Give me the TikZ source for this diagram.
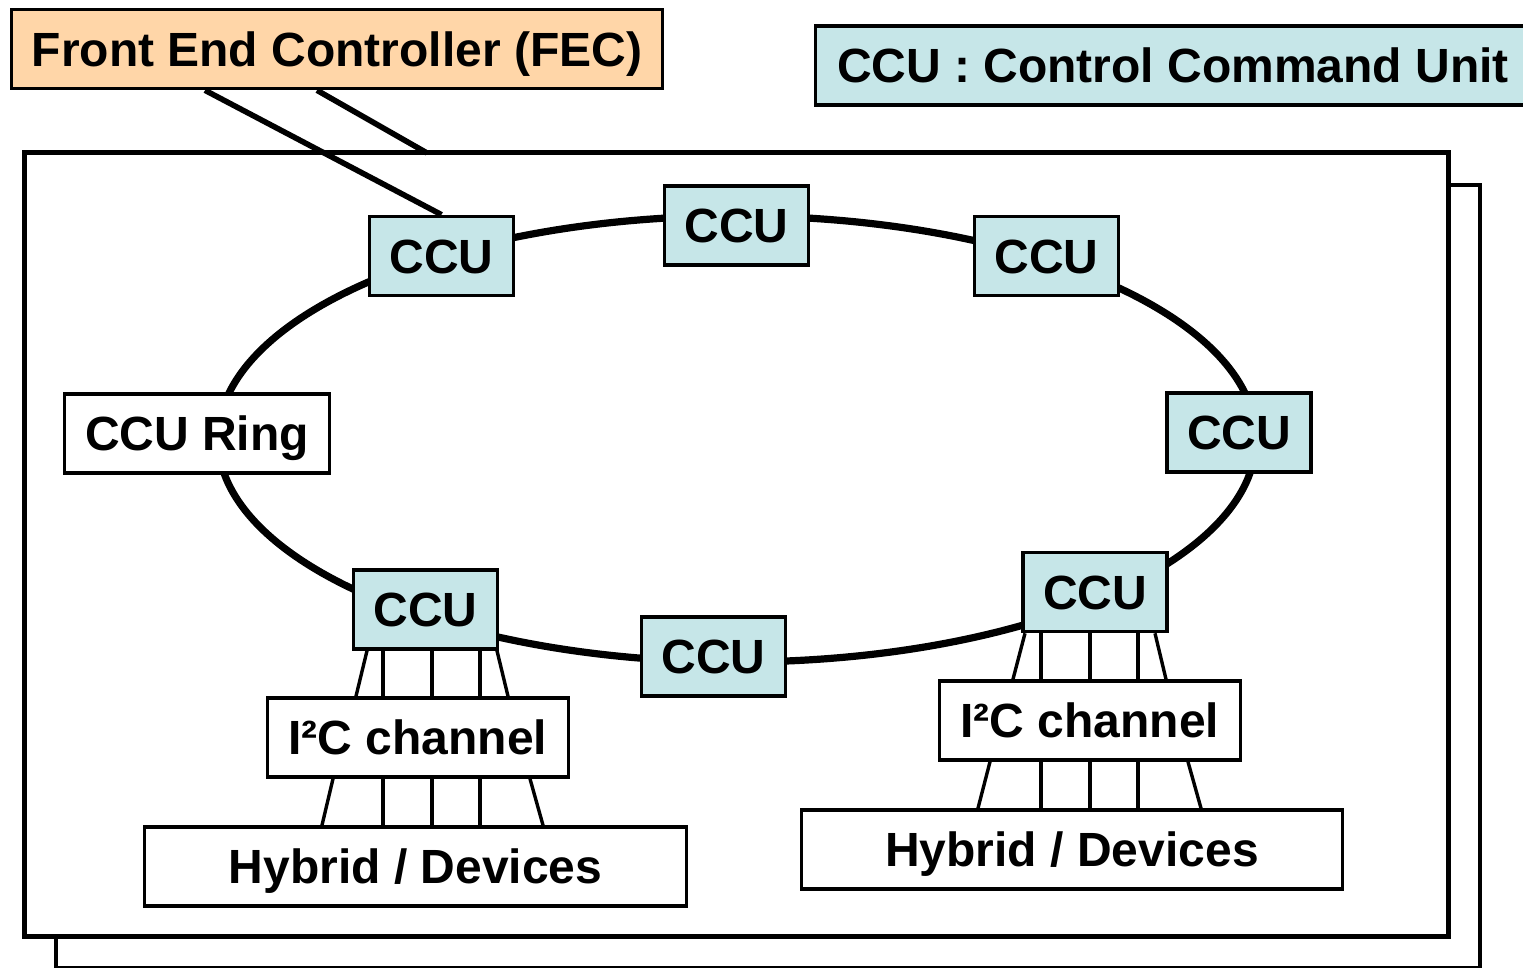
\documentclass[tikz,border=0pt]{standalone}
\usepackage{fontspec}
\setmainfont{Liberation Sans}
\definecolor{fecfill}{HTML}{FFD6A8}
\definecolor{ccufill}{HTML}{C6E6E8}
\begin{document}
\begin{tikzpicture}[x=0.5pt,y=-0.5pt,
  lbl/.style={font=\fontsize{24}{28}\selectfont\bfseries, text height=17.2pt, text depth=0pt},
  box/.style={lbl, draw, line width=1.8pt, inner sep=0pt, minimum height=39.5pt},
  ccu/.style={box, fill=ccufill, minimum width=72pt},
  wbox/.style={box, fill=white},
  frame/.style={draw, fill=white},
  ring/.style={line width=3.6pt},
  wire/.style={line width=1.7pt},
  link/.style={line width=2.8pt}]
\useasboundingbox (0,0) rectangle (1523,968);
\clip (0,0) rectangle (1523,968);

% stacked crate frames
\draw[frame, line width=2pt] (56,185) rectangle (1480,968);
\draw[frame, line width=2.5pt] (24,153) rectangle (1448,936);

% headers
\node[box, fill=fecfill, minimum width=325.5pt] (fec) at (337,49) {Front End Controller (FEC)};
\node[box, fill=ccufill, minimum width=360pt] (legend) at (1175.5,65.5) {\hspace*{-2.5pt}CCU : Control Command Unit};

% token ring
\draw[ring] (737,439) ellipse [x radius=519, y radius=223];

% ring members
\node[ccu] (c1) at (441.5,256) {CCU};
\node[ccu] (c2) at (736.5,225.5) {CCU};
\node[ccu] (c3) at (1046.5,256) {CCU};
\node[ccu] (c4) at (1239,432.5) {CCU};
\node[ccu] (c5) at (1095,592) {CCU};
\node[ccu] (c6) at (713.5,656.5) {CCU};
\node[ccu] (c7) at (425.5,609.5) {CCU};
\node[wbox, minimum width=132.5pt] (ringlbl) at (197,433.5) {CCU Ring};

% front-end links
\coordinate (entry) at (427,153);
\draw[link] (205,0 |- fec.south) -- (c1.north);
\draw[link] (317,0 |- fec.south) -- (entry);

% left I2C branch
\node[wbox, minimum width=150.5pt] (i2cl) at (418,737.5) {I²C channel};
\node[wbox, minimum width=271pt] (hybl) at (415.5,866.5) {Hybrid / Devices};
\foreach \a/\b in {367/356, 383/383, 432/432, 480/480, 497/508}
  \draw[wire] (\a,0 |- c7.south) -- (\b,0 |- i2cl.north);
\foreach \a/\b in {333/322, 383/383, 432/432, 480/480, 530/543}
  \draw[wire] (\a,0 |- i2cl.south) -- (\b,0 |- hybl.north);

% right I2C branch
\node[wbox, minimum width=150.5pt] (i2cr) at (1090,720.5) {I²C channel};
\node[wbox, minimum width=270.5pt] (hybr) at (1072,849.5) {Hybrid / Devices};
\foreach \a/\b in {1025/1013, 1041/1041, 1090/1090, 1138/1138, 1155/1166}
  \draw[wire] (\a,0 |- c5.south) -- (\b,0 |- i2cr.north);
\foreach \a/\b in {990/978, 1041/1041, 1090/1090, 1138/1138, 1188/1201}
  \draw[wire] (\a,0 |- i2cr.south) -- (\b,0 |- hybr.north);
\end{tikzpicture}
\end{document}
